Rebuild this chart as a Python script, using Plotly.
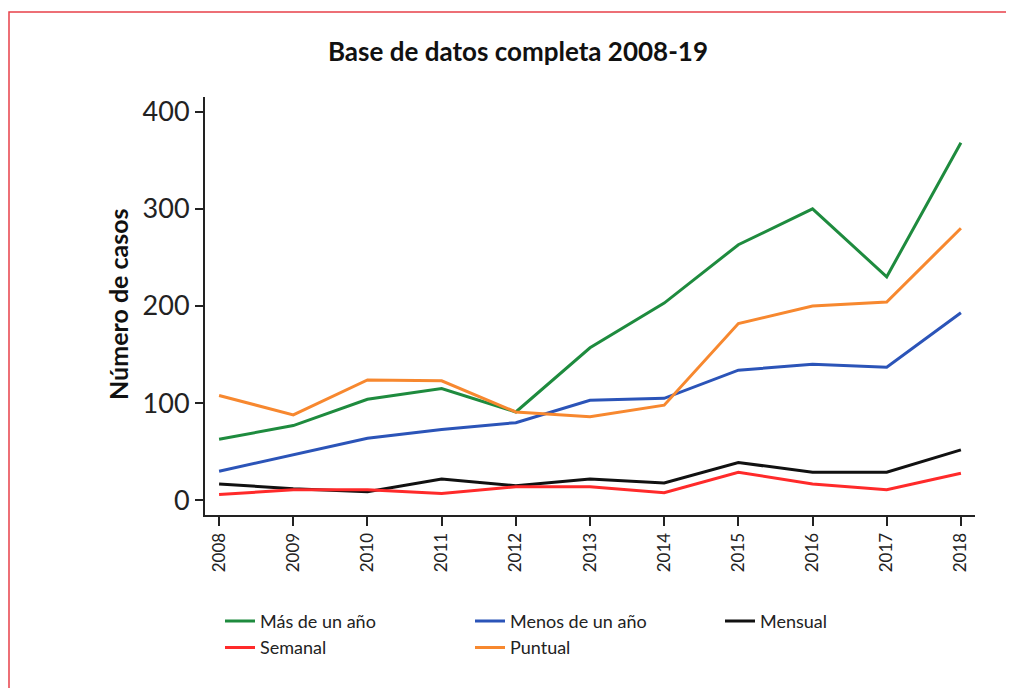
import plotly.graph_objects as go

years = [2008, 2009, 2010, 2011, 2012, 2013, 2014, 2015, 2016, 2017, 2018]

mas_de_un_ano = [63, 77, 104, 115, 91, 157, 203, 263, 300, 230, 368]
menos_de_un_ano = [30, 47, 64, 73, 80, 103, 105, 134, 140, 137, 193]
mensual = [17, 12, 9, 22, 15, 22, 18, 39, 29, 29, 52]
semanal = [6, 11, 11, 7, 14, 14, 8, 29, 17, 11, 28]
puntual = [108, 88, 124, 123, 91, 86, 98, 182, 200, 204, 280]

series = [
    ("Más de un año", mas_de_un_ano, "#1e8b3e"),
    ("Menos de un año", menos_de_un_ano, "#2b54b8"),
    ("Mensual", mensual, "#111111"),
    ("Semanal", semanal, "#ff2a2a"),
    ("Puntual", puntual, "#f7882f"),
]

fig = go.Figure()
for name, vals, col in series:
    fig.add_trace(go.Scatter(x=years, y=vals, mode="lines", name=name,
                             line=dict(color=col, width=3)))

# the page body adds an 8px offset, so margins are shifted to compensate
fig.update_layout(
    width=1014, height=688,
    margin=dict(l=197, r=47, t=89, b=181, autoexpand=False),
    plot_bgcolor="white", paper_bgcolor="white",
    font=dict(family="Lato", color="#222"),
    title=dict(text="<b>Base de datos completa 2008-19</b>", x=510 / 1014, xanchor="center",
               y=1 - 44 / 688, yanchor="middle", font=dict(size=26, color="#111")),
    showlegend=True,
    legend=dict(orientation="h", xref="container", x=212 / 1014, xanchor="left",
                y=-0.21, yanchor="top",
                entrywidth=205, entrywidthmode="pixels",
                font=dict(size=18, color="#222")),
)

fig.update_xaxes(range=[2007.81, 2018.19], tickvals=years, tickangle=-90,
                 showline=True, linecolor="#222", linewidth=2, automargin=False,
                 ticks="outside", ticklen=9, tickwidth=2, tickcolor="#222",
                 showgrid=False, zeroline=False, tickfont=dict(size=17, color="#222"))
fig.update_yaxes(range=[-15, 415], tickvals=[0, 100, 200, 300, 400],
                 showline=True, linecolor="#222", linewidth=2, automargin=False,
                 ticks="outside", ticklen=8, tickwidth=2, tickcolor="#222",
                 showgrid=False, zeroline=False, tickfont=dict(size=27, color="#222"))

# y-axis title
fig.add_annotation(text="<b>Número de casos</b>", xref="paper", yref="paper",
                   x=(118 - 205) / 770, y=0.505, xanchor="center", yanchor="middle",
                   textangle=-90, showarrow=False,
                   font=dict(size=25, color="#111"))

# red frame around the figure
fig.add_shape(type="rect", xref="paper", yref="paper",
              x0=(9 - 205) / 770, x1=(1030 - 205) / 770,
              y0=(515 - 720) / 418, y1=(515 - 12) / 418,
              line=dict(color="#e8404a", width=1.5), layer="below")

fig.write_html("out.html")
